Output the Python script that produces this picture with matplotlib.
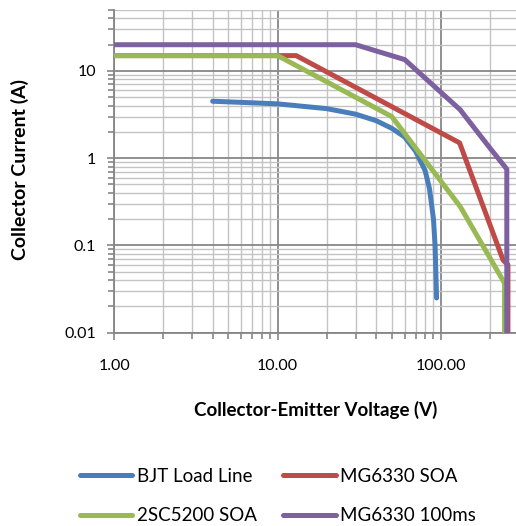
import matplotlib
matplotlib.use("Agg")
import matplotlib.pyplot as plt
from matplotlib.ticker import LogLocator, NullFormatter

plt.rcParams["font.family"] = ["Lato", "DejaVu Sans"]

# BJT load line
bjt_v = [4, 10, 20, 30, 40, 50, 60, 70, 80, 85, 90, 92, 94]
bjt_i = [4.5, 4.2, 3.7, 3.2, 2.7, 2.2, 1.75, 1.2, 0.72, 0.45, 0.2, 0.1, 0.025]

# MG6330 SOA
mg_soa_v = [1, 13, 130, 240, 257, 257]
mg_soa_i = [15, 15, 1.5, 0.068, 0.06, 0.01]

# 2SC5200 SOA
sc_v = [1, 10, 50, 131, 245, 245]
sc_i = [15, 15, 3.0, 0.28, 0.037, 0.01]

# MG6330 100ms
mg_100_v = [1, 30, 60, 131, 200, 253, 253]
mg_100_i = [20, 20, 13.5, 3.6, 1.3, 0.75, 0.01]

BLUE, RED, GREEN, PURPLE = "#4a7ebb", "#be4b48", "#98b954", "#7d60a0"

fig = plt.figure(figsize=(5.16, 5.26), dpi=100)
ax = fig.add_axes([114.3 / 516, 1 - 332.7 / 526, (516 - 114.3) / 516, (332.7 - 10) / 526])
ax.set_xscale("log")
ax.set_yscale("log")

lw = 3.6
l_bjt, = ax.plot(bjt_v, bjt_i, color=BLUE, lw=lw, solid_capstyle="round", label="BJT Load Line", zorder=3)
l_mg, = ax.plot(mg_soa_v, mg_soa_i, color=RED, lw=lw, solid_capstyle="round", label="MG6330 SOA", zorder=4)
l_sc, = ax.plot(sc_v, sc_i, color=GREEN, lw=lw, solid_capstyle="round", label="2SC5200 SOA", zorder=5)
l_100, = ax.plot(mg_100_v, mg_100_i, color=PURPLE, lw=lw, solid_capstyle="round", label="MG6330 100ms", zorder=6)

ax.set_xlim(1, 288)
ax.set_ylim(0.01, 50)

ax.set_xticks([1, 10, 100], ["1.00", "10.00", "100.00"])
ax.set_yticks([0.01, 0.1, 1, 10], ["0.01", "0.1", "1", "10"])
ax.xaxis.set_minor_locator(LogLocator(base=10, subs=range(2, 10), numticks=20))
ax.yaxis.set_minor_locator(LogLocator(base=10, subs=range(2, 10), numticks=20))
ax.xaxis.set_minor_formatter(NullFormatter())
ax.yaxis.set_minor_formatter(NullFormatter())

ax.grid(True, which="major", color="#878787", lw=1.3, zorder=1)
ax.grid(True, which="minor", color="#c3c3c3", lw=1.0, zorder=1)
ax.set_axisbelow(True)

for s in ("top", "right"):
    ax.spines[s].set_visible(False)
for s in ("left", "bottom"):
    ax.spines[s].set_color("#868686")
    ax.spines[s].set_linewidth(1.3)

ax.tick_params(which="both", direction="out", color="#868686", labelsize=11.5, width=1.2)
ax.tick_params(which="major", length=5)
ax.tick_params(which="minor", length=4)
ax.tick_params(axis="x", pad=14)
ax.tick_params(axis="y", pad=8)

fig.text(316 / 516, 1 - 410 / 526, "Collector-Emitter Voltage (V)", ha="center", va="center",
         fontsize=13.5, fontweight="bold")
fig.text(20 / 516, 1 - 169 / 526, "Collector Current (A)", ha="center", va="center",
         rotation=90, fontsize=14, fontweight="bold")

leg = fig.legend([l_bjt, l_sc, l_mg, l_100],
                 ["BJT Load Line", "2SC5200 SOA", "MG6330 SOA", "MG6330 100ms"],
                 ncol=2, loc="center", bbox_to_anchor=(278 / 516, 1 - 496 / 526),
                 frameon=False, fontsize=13.5, handlelength=2.8, handletextpad=0.25,
                 columnspacing=1.4, labelspacing=1.2, borderpad=0.1)
for h in leg.get_lines():
    h.set_solid_capstyle("round")

fig.savefig("out.png", dpi=100)
